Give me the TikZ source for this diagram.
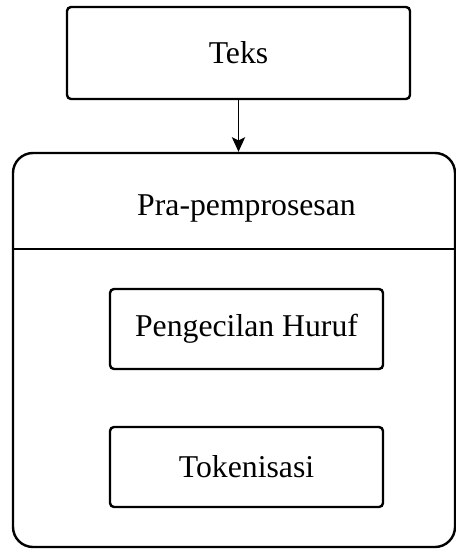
\documentclass[tikz,border=0pt]{standalone}
\usepackage{fontspec}
\setmainfont{Liberation Serif}
\usetikzlibrary{arrows.meta}

\tikzset{
  stepbox/.style={draw, line width=1.8pt, rounded corners=3pt, fill=white,
    font=\fontsize{23.8}{28}\selectfont, inner sep=0pt},
  groupbox/.style={draw, line width=1.8pt, rounded corners=15pt, inner sep=0pt},
  title/.style={font=\fontsize{23.8}{28}\selectfont, inner sep=0pt},
  flow/.style={line width=1pt, -{Stealth[length=11pt, width=10pt, inset=2.5pt]}}
}

\begin{document}
\begin{tikzpicture}[x=0.75pt, y=-0.75pt]
  \useasboundingbox (0,0) rectangle (456,549);

  % input text
  \node[stepbox, minimum width=343*0.75pt, minimum height=92*0.75pt]
    (teks) at (238.5,53) {Teks};

  % preprocessing group with its header
  \node[groupbox, minimum width=442*0.75pt, minimum height=394*0.75pt]
    (group) at (234,350) {};
  \node[title] (grouptitle) at (246.5,208) {Pra-pemprosesan};
  \coordinate (divL) at (13,249);
  \coordinate (divR) at (455,249);
  \draw[line width=1.8pt] (group.west |- divL) -- (group.east |- divR);

  % steps inside the group
  \node[stepbox, minimum width=273*0.75pt, minimum height=80*0.75pt]
    (lower) at (246.5,329) {Pengecilan Huruf};
  \node[stepbox, minimum width=273*0.75pt, minimum height=80*0.75pt]
    (token) at (246.5,467) {Tokenisasi};

  \draw[flow] (teks.south) -- (teks.south |- group.north);
\end{tikzpicture}
\end{document}
